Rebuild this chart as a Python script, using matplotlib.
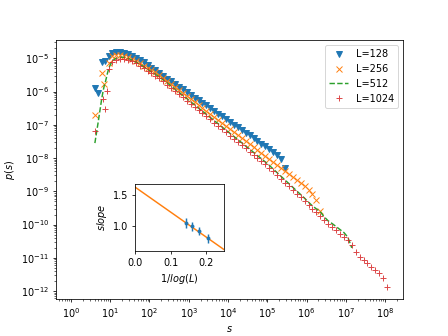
import numpy as np
from matplotlib import pyplot as plt

nan = np.nan

# log10(s) grid: a few small cluster sizes, then log bins of 0.1 decade
log_s_head = [0.61, 0.69, 0.78, 0.82, 0.85, 0.88, 0.93, 0.97]
log_s_tail = [1.05, 1.15, 1.25, 1.35, 1.45, 1.55, 1.65, 1.75, 1.85, 1.95,
              2.05, 2.15, 2.25, 2.35, 2.45, 2.55, 2.65, 2.75, 2.85, 2.95,
              3.05, 3.15, 3.25, 3.35, 3.45, 3.55, 3.65, 3.75, 3.85, 3.95,
              4.05, 4.15, 4.25, 4.35, 4.45, 4.55, 4.65, 4.75, 4.85, 4.95,
              5.05, 5.15, 5.25, 5.35, 5.45, 5.55, 5.65, 5.75, 5.85, 5.95,
              6.05, 6.15, 6.25, 6.35, 6.45, 6.55, 6.65, 6.75, 6.85, 6.95,
              7.05, 7.15, 7.25, 7.35, 7.45, 7.55, 7.65, 7.75, 7.85, 7.95,
              8.05]

# log10 p(s) for each system size
logp_128 = [-5.89, -6.04, -5.12, nan, nan, -5.09, nan, -4.93,
            -4.84, -4.82, -4.82, -4.84, -4.88, -4.93, -4.99, -5.05, -5.12, -5.20,
            -5.28, -5.36, -5.44, -5.52, -5.61, -5.69, -5.77, -5.85, -5.93, -6.02,
            -6.10, -6.18, -6.26, -6.34, -6.42, -6.51, -6.59, -6.67, -6.75, -6.83,
            -6.91, -7.00, -7.08, -7.16, -7.24, -7.32, -7.40, -7.49, -7.57, -7.65,
            -7.73, -7.82, -7.91, -8.02, -8.30]
logp_256 = [-6.72, nan, -5.44, nan, -5.76, nan, nan, -5.14,
            -4.94, -4.91, -4.91, -4.93, -4.97, -5.02, -5.08, -5.15, -5.22, -5.30,
            -5.34, -5.42, -5.51, -5.59, -5.68, -5.77, -5.86, -5.95, -6.04, -6.13,
            -6.22, -6.31, -6.40, -6.49, -6.58, -6.67, -6.76, -6.85, -6.94, -7.03,
            -7.12, -7.21, -7.30, -7.39, -7.48, -7.57, -7.66, -7.75, -7.84, -7.93,
            -8.02, -8.11, -8.20, -8.29, -8.38, -8.47, -8.56, -8.65, -8.75, -8.85,
            -8.96, -9.08, -9.25, -9.60]
logp_512 = [-7.55, -6.95, -6.25, -5.98, -5.82, -5.70, -5.45, -5.28,
            -5.08, -5.00, -4.97, -4.97, -5.00, -5.05, -5.11, -5.18, -5.25, -5.33,
            -5.41, -5.48, -5.56, -5.65, -5.74, -5.83, -5.93, -6.02, -6.12, -6.21,
            -6.31, -6.40, -6.50, -6.59, -6.69, -6.78, -6.88, -6.97, -7.07, -7.16,
            -7.26, -7.35, -7.45, -7.54, -7.64, -7.73, -7.83, -7.93, -8.02, -8.12,
            -8.22, -8.33, -8.44, -8.55, -8.66, -8.77, -8.88, -8.99, -9.10, -9.21,
            -9.33, -9.44, -9.53, -9.62, -9.77, -9.89, -9.97, -10.06, -10.15, -10.24,
            -10.38, -10.70]
logp_1024 = [-7.19, nan, nan, -6.22, nan, -6.52, -5.99, -5.32,
             -5.12, -5.05, -5.01, -5.01, -5.04, -5.09, -5.15, -5.22, -5.29, -5.37,
             -5.45, -5.52, -5.60, -5.69, -5.79, -5.88, -5.98, -6.08, -6.17, -6.27,
             -6.36, -6.46, -6.56, -6.65, -6.75, -6.84, -6.94, -7.04, -7.13, -7.23,
             -7.33, -7.42, -7.52, -7.61, -7.71, -7.81, -7.91, -8.00, -8.10, -8.19,
             -8.29, -8.40, -8.51, -8.63, -8.74, -8.85, -8.96, -9.07, -9.18, -9.30,
             -9.41, -9.52, -9.63, -9.74, -9.86, -9.97, -10.07, -10.17, -10.27, -10.36,
             -10.45, -10.62, -10.83, -10.97, -11.08, -11.17, -11.28, -11.36, -11.45, -11.62,
             -11.88]

# inset: fitted slope vs 1/log(L)
L_vals = [128, 256, 512, 1024]
slopes = [0.81, 0.93, 1.00, 1.05]
slope_err = [0.07, 0.06, 0.07, 0.08]
fit_intercept = 1.62
fit_slope = -3.95

s = 10 ** np.array(log_s_head + log_s_tail)

fig = plt.figure(figsize=(6.4, 4.8), dpi=70)
ax = fig.add_subplot(111)
ax.plot(s[:len(logp_128)], 10 ** np.array(logp_128), 'v', ms=6.5, label='L=128')
ax.plot(s[:len(logp_256)], 10 ** np.array(logp_256), 'x', ms=6.5, label='L=256')
ax.plot(s[:len(logp_512)], 10 ** np.array(logp_512), '--', label='L=512')
ax.plot(s[:len(logp_1024)], 10 ** np.array(logp_1024), '+', ms=6.5, alpha=0.85, label='L=1024')
ax.set_xscale('log')
ax.set_yscale('log')
ax.set_xlim(10 ** -0.38, 10 ** 8.46)
ax.set_ylim(10 ** -12.24, 10 ** -4.46)
ax.set_xlabel('$s$')
ax.set_ylabel('$p(s)$')
ax.legend(loc='upper right')

inv_logL = 1 / np.log(np.array(L_vals))
ins = fig.add_axes([0.301, 0.253, 0.199, 0.2])
ins.errorbar(inv_logL, slopes, yerr=slope_err, fmt='.')
xx = np.array([0.0, 0.3])
ins.plot(xx, fit_intercept + fit_slope * xx)
ins.set_xlim(0, 0.25)
ins.set_ylim(0.61, 1.67)
ins.set_xlabel('$1/log(L)$')
ins.set_ylabel('$slope$')

plt.savefig('out.png')
